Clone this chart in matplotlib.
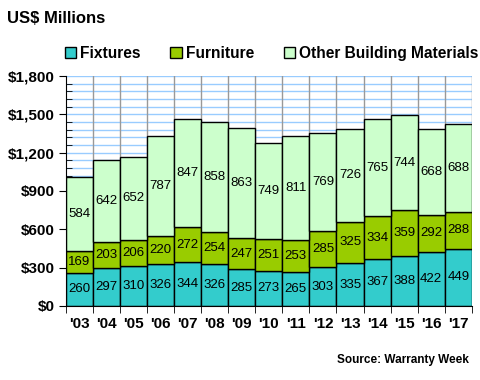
import matplotlib.pyplot as plt
import numpy as np
from matplotlib.patches import Patch
from matplotlib.ticker import MultipleLocator, FixedLocator

plt.rcParams['font.family'] = ['Liberation Sans', 'DejaVu Sans']

years = ["'03", "'04", "'05", "'06", "'07", "'08", "'09", "'10",
         "'11", "'12", "'13", "'14", "'15", "'16", "'17"]
fixtures = [260, 297, 310, 326, 344, 326, 285, 273, 265, 303, 335, 367, 388, 422, 449]
furniture = [169, 203, 206, 220, 272, 254, 247, 251, 253, 285, 325, 334, 359, 292, 288]
other = [584, 642, 652, 787, 847, 858, 863, 749, 811, 769, 726, 765, 744, 668, 688]

c_fix = '#33CCCC'
c_fur = '#99CC00'
c_oth = '#CCFFCC'

fig = plt.figure(figsize=(4.8, 3.8), dpi=100)
ax = fig.add_axes([0.137, 0.195, 0.846, 0.605])

x = np.arange(len(years))
fx = np.array(fixtures)
fu = np.array(furniture)
ot = np.array(other)

b1 = ax.bar(x, fx, width=1.0, color=c_fix, edgecolor='black', linewidth=1, zorder=3)
b2 = ax.bar(x, fu, width=1.0, bottom=fx, color=c_fur, edgecolor='black', linewidth=1, zorder=3)
b3 = ax.bar(x, ot, width=1.0, bottom=fx + fu, color=c_oth, edgecolor='black', linewidth=1, zorder=3)

for bars in (b1, b2, b3):
    ax.bar_label(bars, label_type='center', fontsize=9.5, color='black', zorder=4)

ax.set_xlim(-0.5, len(years) - 0.5)
ax.set_ylim(0, 1800)

# light blue horizontal grid, gray vertical separators
for yv in np.arange(60, 1801, 60):
    ax.axhline(yv, color='#99CCFF', linewidth=1, zorder=1)
for xv in np.arange(0.5, len(years), 1):
    ax.axvline(xv, color='#999999', linewidth=1, zorder=1.5)

ax.yaxis.set_major_locator(MultipleLocator(300))
ax.yaxis.set_minor_locator(MultipleLocator(60))
ax.set_yticklabels(['${:,.0f}'.format(v) for v in ax.get_yticks()])
ax.tick_params(axis='y', which='major', direction='out', length=5, labelsize=11, pad=3)
ax.tick_params(axis='y', which='minor', direction='in', length=4)

ax.set_xticks(x)
ax.set_xticklabels(years)
ax.xaxis.set_minor_locator(FixedLocator(np.arange(-0.5, len(years), 1)))
ax.tick_params(axis='x', which='major', length=0, labelsize=11, pad=8)
ax.tick_params(axis='x', which='minor', direction='out', length=5)
for lbl in ax.get_xticklabels() + ax.get_yticklabels():
    lbl.set_fontweight('bold')

for s in ('top', 'right'):
    ax.spines[s].set_visible(False)
ax.spines['left'].set_zorder(5)
ax.spines['bottom'].set_zorder(5)

fig.text(0.015, 0.952, 'US$ Millions', fontsize=12, fontweight='bold', va='center')

handles = [Patch(facecolor=c, edgecolor='black', linewidth=1) for c in (c_fix, c_fur, c_oth)]
fig.legend(handles, ['Fixtures', 'Furniture', 'Other Building Materials'],
           loc='center left', bbox_to_anchor=(0.135, 0.86), ncol=3, frameon=False,
           prop={'weight': 'bold', 'size': 11.2}, handlelength=0.75, handleheight=0.75,
           handletextpad=0.25, columnspacing=1.9, borderaxespad=0, borderpad=0)

fig.text(0.977, 0.053, 'Source: Warranty Week', fontsize=8.5, fontweight='bold',
         ha='right', va='center')

fig.savefig('out.png', dpi=100)
